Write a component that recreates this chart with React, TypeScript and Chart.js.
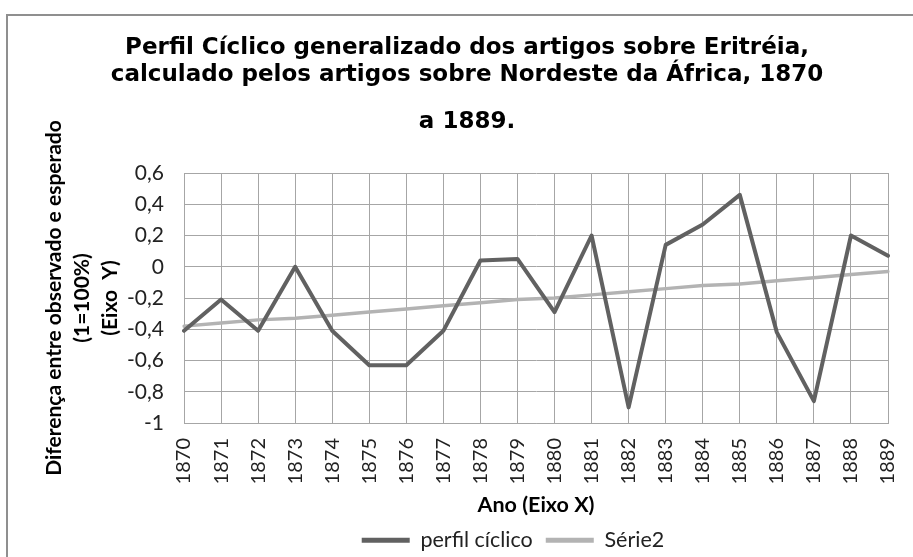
import React, { useEffect, useRef } from 'react';
import { Chart, registerables } from 'chart.js';

Chart.register(...registerables);

const years = ['1870', '1871', '1872', '1873', '1874', '1875', '1876', '1877', '1878', '1879', '1880', '1881', '1882', '1883', '1884', '1885', '1886', '1887', '1888', '1889'];
const perfilCiclico = [-0.41, -0.21, -0.41, 0.0, -0.41, -0.63, -0.63, -0.41, 0.04, 0.05, -0.29, 0.2, -0.9, 0.14, 0.27, 0.46, -0.42, -0.86, 0.2, 0.07];
const serie2 = [-0.38, -0.36, -0.34, -0.33, -0.31, -0.29, -0.27, -0.25, -0.23, -0.21, -0.2, -0.18, -0.16, -0.14, -0.12, -0.11, -0.09, -0.07, -0.05, -0.03];
const seriesNames = ['perfil cíclico', 'Série2'];
const titleLines = ['Perfil Cíclico generalizado dos artigos sobre Eritréia,', 'calculado pelos artigos sobre Nordeste da África, 1870'];
const subtitleText = 'a 1889.';
const yTitleLines = ['Diferença entre observado e esperado', '(1=100%)', '(Eixo  Y)'];
const xTitleText = 'Ano (Eixo X)';
const yMin = -1;
const yMax = 0.6;
const yStep = 0.2;

const formatTick = (v: number) => {
  const n = Number(Number(v).toFixed(1));
  return (n === 0 ? 0 : n).toString().replace('.', ',');
};

const legendShift = {
  id: 'legendShift',
  afterLayout(chart: any) {
    const lg = chart.legend;
    if (!lg) return;
    lg.left += 46;
    lg.right += 46;
  },
};

export default function App() {
  const ref = useRef<HTMLCanvasElement | null>(null);

  useEffect(() => {
    if (!ref.current) return;
    const chart = new Chart(ref.current, {
      type: 'line',
      data: {
        labels: years,
        datasets: [
          {
            label: seriesNames[0],
            data: perfilCiclico,
            borderColor: '#616161',
            backgroundColor: '#616161',
            borderWidth: 4,
            pointRadius: 0,
            tension: 0,
            borderJoinStyle: 'round',
            borderCapStyle: 'round',
          },
          {
            label: seriesNames[1],
            data: serie2,
            borderColor: '#b3b3b3',
            backgroundColor: '#b3b3b3',
            borderWidth: 3.5,
            pointRadius: 0,
            tension: 0,
            borderJoinStyle: 'round',
            borderCapStyle: 'round',
          },
        ],
      },
      plugins: [legendShift],
      options: {
        animation: false,
        responsive: false,
        events: [],
        layout: { padding: { left: 46, right: 46, top: 0, bottom: 0 } },
        plugins: {
          tooltip: { enabled: false },
          title: {
            display: true,
            text: titleLines,
            color: '#000',
            font: { family: 'DejaVu Sans', weight: 'bold', size: 23, lineHeight: 27 / 23 },
            padding: { top: 34.5, bottom: 0 },
          },
          subtitle: {
            display: true,
            text: subtitleText,
            color: '#000',
            font: { family: 'DejaVu Sans', weight: 'bold', size: 23, lineHeight: 27 / 23 },
            padding: { top: 20, bottom: 37.5 },
          },
          legend: {
            display: true,
            position: 'bottom',
            labels: {
              boxWidth: 48,
              boxHeight: 5,
              padding: 13,
              color: '#222',
              font: { family: 'Lato', size: 21.5 },
              generateLabels: (c: any) =>
                Chart.defaults.plugins.legend.labels.generateLabels(c).map((it: any) => ({
                  ...it,
                  lineWidth: 0,
                  fillStyle: it.strokeStyle,
                })),
            },
          },
        },
        scales: {
          x: {
            type: 'category',
            offset: false,
            grid: { display: true, color: '#a6a6a6', lineWidth: 1, drawTicks: false, offset: false },
            border: { display: true, color: '#a6a6a6', width: 1 },
            ticks: {
              autoSkip: false,
              minRotation: 90,
              maxRotation: 90,
              padding: 15,
              color: '#222',
              font: { family: 'Lato', size: 20 },
            },
            title: {
              display: true,
              text: xTitleText,
              color: '#000',
              font: { family: 'Lato', weight: 'bold', size: 21.5, lineHeight: 1.2 },
              padding: { top: 0, bottom: -1.5 },
            },
            afterFit: (s: any) => {
              s.height = 93.5;
            },
          },
          y: {
            type: 'linear',
            min: yMin,
            max: yMax,
            grid: { display: true, color: '#a6a6a6', lineWidth: 1, drawTicks: false },
            border: { display: true, color: '#a6a6a6', width: 1 },
            ticks: {
              stepSize: yStep,
              padding: 20,
              color: '#222',
              font: { family: 'Lato', size: 21 },
              callback: (v: any) => formatTick(v),
            },
            title: {
              display: true,
              text: yTitleLines,
              color: '#000',
              font: { family: 'Lato', weight: 'bold', size: 21, lineHeight: '28px' },
              padding: { top: -6, bottom: 0 },
            },
            afterFit: (s: any) => {
              s.width = 138;
            },
          },
        },
      },
    } as any);
    return () => chart.destroy();
  }, []);

  return (
    <div style={{ position: 'fixed', left: 0, top: 0, width: 913, height: 557, overflow: 'hidden', background: '#fff' }}>
      <div
        style={{
          position: 'absolute',
          left: 6,
          top: 14,
          width: 1200,
          height: 1200,
          borderLeft: '2px solid #8f8f8f',
          borderTop: '2px solid #8f8f8f',
          boxSizing: 'border-box',
        }}
      />
      <canvas ref={ref} width={934} height={561} style={{ position: 'absolute', left: 0, top: 0, display: 'block' }} />
    </div>
  );
}
